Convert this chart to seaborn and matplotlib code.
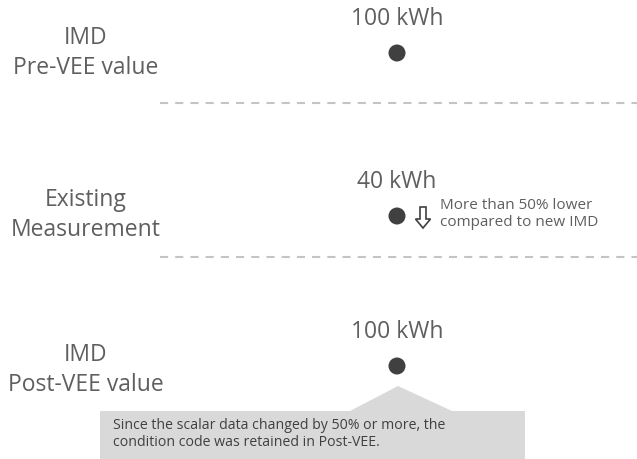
import pandas as pd
import matplotlib.pyplot as plt
import matplotlib.patches as mpatches
import seaborn as sns

# data
row_labels = ['IMD\nPre-VEE value', 'Existing\nMeasurement', 'IMD\nPost-VEE value']
values_kwh = [100, 40, 100]
note_text = 'More than 50% lower\ncompared to new IMD'
callout_text = 'Since the scalar data changed by 50% or more, the\ncondition code was retained in Post-VEE.'

# layout (pixel space of the 637x460 canvas)
W, H = 637, 460
dot_x = 397
row_y = [54, 217, 367]
label_x = 86
label_y = [53, 215, 370]
sep_y = [104, 258]

sns.set_theme(style='white')
plt.rcParams['font.family'] = ['Open Sans', 'DejaVu Sans']
txt = '#5f5f5f'

fig = plt.figure(figsize=(W / 100, H / 100), dpi=100)
ax = fig.add_axes([0, 0, 1, 1])
ax.set_xlim(0, W)
ax.set_ylim(H, 0)
ax.axis('off')

df = pd.DataFrame({'label': row_labels, 'value': values_kwh,
                   'x': [dot_x] * 3, 'y': row_y, 'ly': label_y})

sns.scatterplot(data=df, x='x', y='y', s=150, color='#404040',
                edgecolor='none', legend=False, ax=ax)

for _, r in df.iterrows():
    ax.text(r['x'], r['y'] - 35, f"{r['value']} kWh", ha='center', va='center',
            fontsize=16.5, color=txt)
    ax.text(label_x, r['ly'], r['label'], ha='center', va='center',
            fontsize=16.5, color=txt, linespacing=1.3)

for y in sep_y:
    ax.plot([160, W], [y, y], color='#c4c4c4', lw=1.5, ls=(0, (3.9, 3.4)))

# hollow down arrow next to the second dot
ax.add_patch(mpatches.FancyArrow(423, row_y[1] - 9, 0, 21, width=6,
                                 head_width=15, head_length=9,
                                 length_includes_head=True,
                                 fc='white', ec='#404040', lw=1.2))
ax.text(440, row_y[1] - 3, note_text, ha='left', va='center',
        fontsize=11, color=txt, linespacing=1.2)

# callout under the third dot
box = [(100, 412), (350, 412), (398, 387), (452, 412), (525, 412),
       (525, 460), (100, 460)]
ax.add_patch(mpatches.Polygon(box, closed=True, fc='#d9d9d9', ec='none'))
ax.text(113, 434, callout_text, ha='left', va='center', fontsize=10.2,
        color='#404040', linespacing=1.25)

fig.savefig('out.png', dpi=100)
